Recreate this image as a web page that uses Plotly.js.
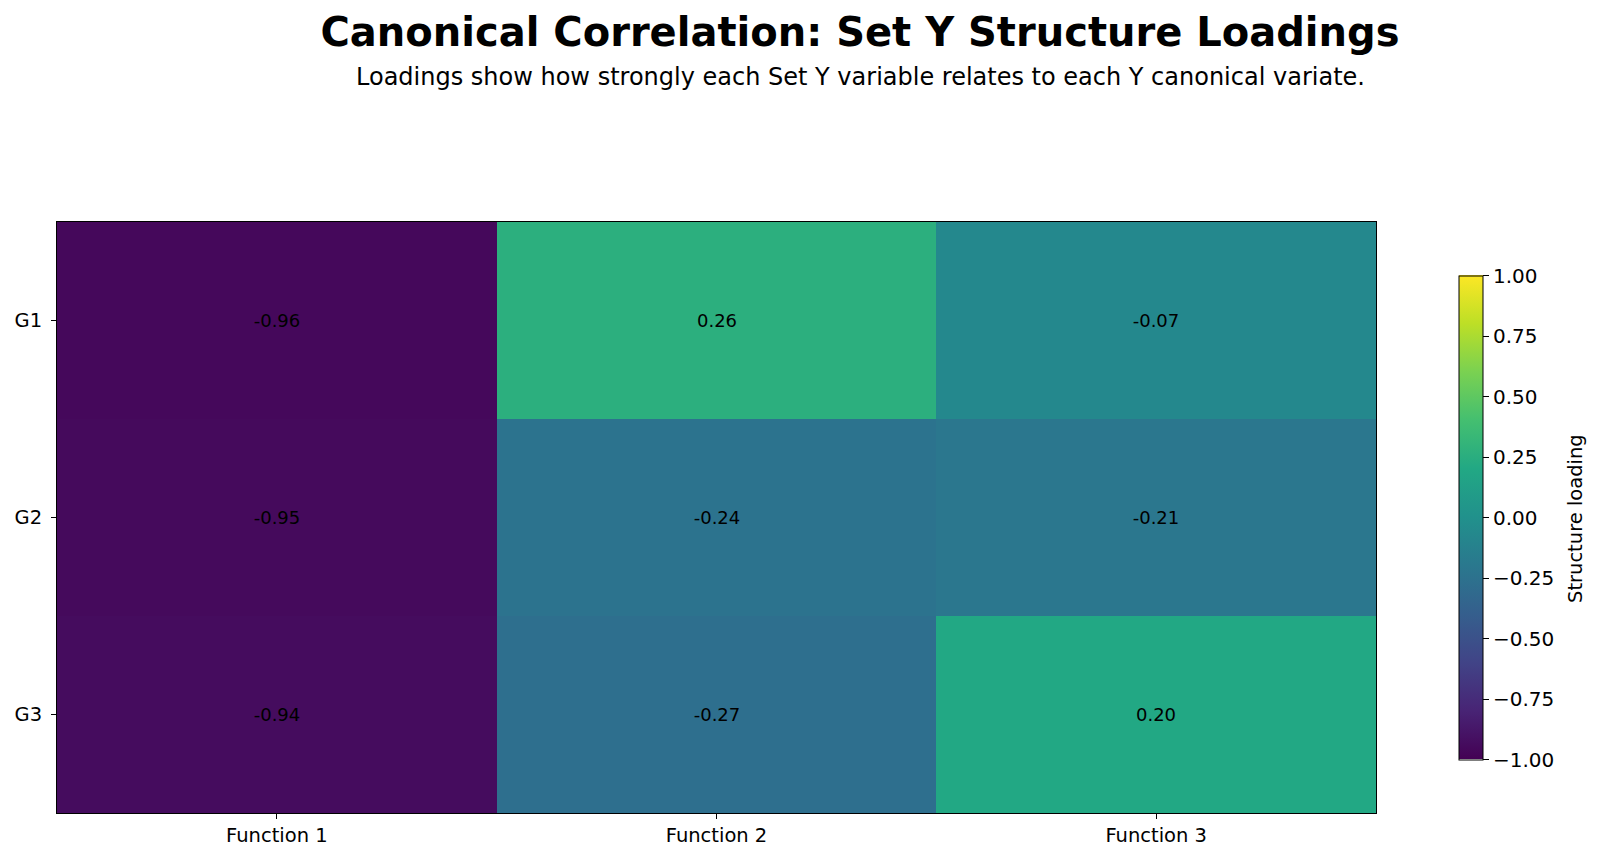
<!DOCTYPE html>
<html>
<head>
<meta charset="utf-8">
<script src="https://cdn.plot.ly/plotly-3.0.1.min.js"></script>
<style>html,body{margin:0;padding:0;background:#fff;}#chart{width:1600px;height:860px;}</style>
</head>
<body>
<div id="chart"></div>
<script>
const functions = ["Function 1", "Function 2", "Function 3"];
const variables = ["G1", "G2", "G3"];
const loadingsG1 = [-0.96, 0.26, -0.07];
const loadingsG2 = [-0.95, -0.24, -0.21];
const loadingsG3 = [-0.94, -0.27, 0.20];
const colorbarTicks = [-1.0, -0.75, -0.5, -0.25, 0.0, 0.25, 0.5, 0.75, 1.0];

const z = [loadingsG1, loadingsG2, loadingsG3];
const text = z.map(r => r.map(v => v.toFixed(2)));

const viridis = [
  [0.0, "#440154"], [0.1, "#482475"], [0.2, "#414487"], [0.3, "#355f8d"],
  [0.4, "#2a788e"], [0.5, "#21918c"], [0.6, "#22a884"], [0.7, "#44bf70"],
  [0.8, "#7ad151"], [0.9, "#bddf26"], [1.0, "#fde725"]
];

const font = "DejaVu Sans, sans-serif";

const trace = {
  type: "heatmap",
  x: functions,
  y: variables,
  z: z,
  text: text,
  texttemplate: "%{text}",
  textfont: {family: font, size: 18, color: "black"},
  zmin: -1, zmax: 1,
  colorscale: viridis,
  xgap: 0, ygap: 0,
  hoverinfo: "skip",
  colorbar: {
    x: 1.063, xanchor: "left", xref: "paper",
    y: 0.5, yanchor: "middle",
    len: 0.819, lenmode: "fraction",
    thickness: 24, thicknessmode: "pixels",
    xpad: 0, ypad: 0,
    outlinewidth: 1, outlinecolor: "black",
    ticks: "outside", ticklen: 6, tickwidth: 1, tickcolor: "black",
    tickvals: colorbarTicks, tickformat: ".2f",
    tickprefix: "\u00a0",
    tickfont: {family: font, size: 20, color: "black"}
  }
};

const layout = {
  width: 1600, height: 860,
  paper_bgcolor: "white", plot_bgcolor: "white",
  margin: {l: 57, r: 224, t: 222, b: 47, pad: 0},
  font: {family: font, color: "black"},
  title: {
    text: "<b>Canonical Correlation: Set Y Structure Loadings</b>",
    font: {family: font, size: 40, color: "black"},
    x: 0.5375, xref: "container", xanchor: "center",
    y: 1 - 32/860, yref: "container", yanchor: "middle"
  },
  annotations: [{
    text: "Loadings show how strongly each Set Y variable relates to each Y canonical variate.",
    xref: "paper", yref: "paper",
    x: (860 - 57) / 1319, y: (813 - 77) / 591,
    xanchor: "center", yanchor: "middle",
    showarrow: false,
    font: {family: font, size: 24, color: "black"}
  }, {
    text: "Structure loading",
    xref: "paper", yref: "paper",
    x: (1575 - 57) / 1319, y: (813 - 519) / 591,
    xanchor: "center", yanchor: "middle",
    textangle: -90,
    showarrow: false,
    font: {family: font, size: 19.5, color: "black"}
  }],
  xaxis: {
    range: [-0.5, 2.5], showline: true, mirror: true, linecolor: "black", linewidth: 1,
    ticks: "outside", ticklen: 5, tickcolor: "black",
    tickfont: {family: font, size: 19.5, color: "black"},
    showgrid: false, zeroline: false
  },
  yaxis: {
    range: [2.5, -0.5], showline: true, mirror: true, linecolor: "black", linewidth: 1,
    ticks: "outside", ticklen: 5, tickcolor: "black",
    ticklabelstandoff: 5,
    tickfont: {family: font, size: 19.5, color: "black"},
    showgrid: false, zeroline: false
  }
};

Plotly.newPlot("chart", [trace], layout, {displayModeBar: false, staticPlot: true});
</script>
</body>
</html>
